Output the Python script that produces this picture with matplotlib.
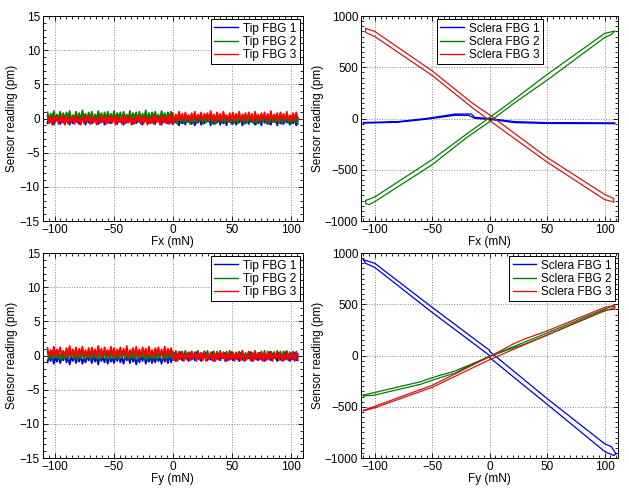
import matplotlib
matplotlib.use("Agg")
import matplotlib.pyplot as plt
import numpy as np
from matplotlib.ticker import MultipleLocator

plt.rcParams['font.family'] = ['Liberation Sans', 'DejaVu Sans']
plt.rcParams['font.size'] = 8.5

BLUE = '#0000e0'
GREEN = '#008000'
RED = '#ff0000'
DRED = '#d01818'

# ---- tip FBG noise (pm), negative-force half and positive-force half ----
tip_fx_b_neg = [-0.7, 0.2, -0.5, 0.4, -0.9, 0.1, -0.3, 0.3, -0.8, -0.1, -0.6, 0.4, -0.4, 0.2, -0.9, 0.0, -0.7, 0.3, -0.5, 0.1,
                -0.8, 0.4, -0.2, 0.2, -0.9, -0.1, -0.6, 0.3, -0.7, 0.1, -0.4, 0.4, -0.8, 0.0, -0.5, 0.2, -0.9, 0.3, -0.6, -0.1,
                -0.7, 0.4, -0.3, 0.1, -0.8, 0.2, -0.5, 0.3, -0.9, 0.0, -0.6, 0.4, -0.4, 0.1, -0.8, 0.2, -0.7, 0.3, -0.5, -0.1,
                -0.9, 0.2, -0.3, 0.4, -0.7, 0.0, -0.6, 0.3, -0.8, 0.1, -0.4, 0.2, -0.9, 0.4, -0.5, 0.0, -0.7, 0.3, -0.6, 0.1]
tip_fx_b_pos = [-0.8, 0.1, -0.6, 0.3, -1.0, -0.1, -0.7, 0.2, -0.9, 0.0, -0.5, 0.3, -0.8, -0.2, -1.0, 0.1, -0.6, 0.2, -0.9, 0.0,
                -0.7, 0.3, -0.4, -0.1, -1.0, 0.2, -0.8, 0.1, -0.6, 0.3, -0.9, -0.2, -0.7, 0.0, -1.0, 0.2, -0.5, 0.1, -0.8, 0.3,
                -0.9, -0.1, -0.6, 0.2, -1.0, 0.0, -0.7, 0.3, -0.8, 0.1, -0.5, -0.2, -0.9, 0.2, -0.7, 0.0, -1.0, 0.3, -0.6, 0.1,
                -0.8, -0.1, -0.9, 0.2, -0.5, 0.3, -1.0, 0.0, -0.7, 0.1, -0.8, 0.2, -0.6, -0.2, -0.9, 0.3, -0.7, 0.0, -1.0, 0.1]
tip_fx_g_neg = [0.9, -0.2, 0.7, 0.1, 1.1, -0.3, 0.6, 0.0, 1.0, -0.1, 0.8, -0.3, 0.9, 0.2, 1.1, -0.2, 0.5, 0.0, 1.0, -0.1,
                0.8, -0.3, 1.2, 0.1, 0.7, -0.2, 0.9, 0.0, 1.0, -0.3, 0.6, -0.1, 1.1, 0.1, 0.8, -0.2, 0.9, -0.3, 1.0, 0.0,
                0.7, -0.1, 1.1, -0.2, 0.8, 0.1, 0.9, -0.3, 1.0, 0.0, 0.6, -0.2, 1.1, -0.1, 0.8, 0.2, 0.9, -0.3, 1.0, -0.1,
                0.7, 0.0, 1.2, -0.2, 0.8, -0.3, 0.9, 0.1, 1.0, -0.1, 0.6, -0.2, 1.1, 0.0, 0.8, -0.3, 0.9, 0.1, 1.0, -0.2]
tip_fx_g_pos = [0.4, -0.6, 0.2, -0.8, 0.5, -0.4, 0.3, -0.7, 0.1, -0.5, 0.4, -0.8, 0.2, -0.6, 0.5, -0.7, 0.3, -0.4, 0.4, -0.8,
                0.1, -0.6, 0.5, -0.5, 0.2, -0.7, 0.4, -0.8, 0.3, -0.4, 0.5, -0.6, 0.2, -0.7, 0.4, -0.5, 0.1, -0.8, 0.3, -0.6,
                0.5, -0.7, 0.2, -0.4, 0.4, -0.8, 0.3, -0.6, 0.1, -0.5, 0.5, -0.7, 0.2, -0.8, 0.4, -0.6, 0.3, -0.4, 0.5, -0.7,
                0.2, -0.8, 0.4, -0.5, 0.1, -0.6, 0.3, -0.7, 0.5, -0.8, 0.2, -0.4, 0.4, -0.6, 0.3, -0.7, 0.1, -0.5, 0.4, -0.8]
tip_fx_r_neg = [0.4, -0.7, 0.1, -0.9, 0.5, -0.5, 0.2, -0.8, 0.3, -0.6, 0.5, -0.9, 0.0, -0.7, 0.4, -0.5, 0.2, -0.8, 0.5, -0.6,
                0.1, -0.9, 0.3, -0.7, 0.4, -0.4, 0.2, -0.8, 0.5, -0.6, 0.0, -0.9, 0.3, -0.7, 0.4, -0.5, 0.1, -0.8, 0.5, -0.7,
                0.2, -0.6, 0.4, -0.9, 0.3, -0.5, 0.0, -0.8, 0.5, -0.7, 0.2, -0.6, 0.4, -0.9, 0.1, -0.7, 0.3, -0.5, 0.5, -0.8,
                0.2, -0.6, 0.4, -0.9, 0.0, -0.7, 0.3, -0.8, 0.5, -0.5, 0.1, -0.9, 0.4, -0.6, 0.2, -0.7, 0.5, -0.8, 0.3, -0.6]
tip_fx_r_pos = [0.8, -0.3, 0.6, -0.4, 1.0, -0.1, 0.7, -0.3, 0.9, 0.0, 0.5, -0.4, 0.8, -0.2, 1.0, -0.3, 0.6, -0.1, 0.9, -0.4,
                0.7, 0.0, 0.8, -0.3, 1.1, -0.2, 0.6, -0.4, 0.9, -0.1, 0.7, -0.3, 1.0, 0.0, 0.5, -0.4, 0.8, -0.2, 0.9, -0.3,
                0.7, -0.1, 1.0, -0.4, 0.6, 0.0, 0.8, -0.3, 0.9, -0.2, 0.7, -0.4, 1.0, -0.1, 0.6, -0.3, 0.8, 0.0, 0.9, -0.4,
                0.7, -0.2, 1.1, -0.3, 0.6, -0.1, 0.8, -0.4, 0.9, 0.0, 0.7, -0.3, 1.0, -0.2, 0.5, -0.4, 0.8, -0.1, 0.9, -0.3]

tip_fy_b_neg = [-1.0, -0.1, -0.8, 0.1, -1.2, -0.2, -0.9, 0.0, -1.1, -0.3, -0.7, 0.1, -1.0, -0.1, -1.3, -0.2, -0.8, 0.0, -1.1, -0.1,
                -0.9, 0.1, -1.2, -0.3, -1.0, 0.0, -0.7, -0.2, -1.1, 0.1, -0.9, -0.1, -1.3, 0.0, -0.8, -0.2, -1.0, 0.1, -1.2, -0.1,
                -0.9, -0.3, -1.1, 0.0, -0.8, 0.1, -1.0, -0.2, -1.2, -0.1, -0.7, 0.0, -1.1, 0.1, -0.9, -0.2, -1.3, -0.1, -1.0, 0.0,
                -0.8, 0.1, -1.2, -0.2, -0.9, -0.1, -1.1, 0.0, -1.0, 0.1, -0.8, -0.3, -1.2, 0.0, -0.9, -0.1, -1.1, 0.1, -1.0, -0.2]
tip_fy_b_pos = [-0.6, 0.4, -0.8, 0.2, -0.5, 0.5, -0.7, 0.1, -0.4, 0.3, -0.8, 0.4, -0.6, 0.0, -0.7, 0.5, -0.5, 0.2, -0.8, 0.3,
                -0.3, 0.4, -0.7, 0.1, -0.6, 0.5, -0.8, 0.2, -0.5, 0.3, -0.7, 0.0, -0.4, 0.4, -0.8, 0.2, -0.6, 0.5, -0.7, 0.1,
                -0.5, 0.3, -0.8, 0.4, -0.6, 0.0, -0.7, 0.2, -0.4, 0.5, -0.8, 0.3, -0.5, 0.1, -0.7, 0.4, -0.6, 0.2, -0.8, 0.0,
                -0.5, 0.5, -0.7, 0.3, -0.4, 0.1, -0.8, 0.4, -0.6, 0.2, -0.7, 0.5, -0.5, 0.0, -0.8, 0.3, -0.6, 0.4, -0.7, 0.2]
tip_fy_g_neg = [0.6, -0.5, 0.3, -0.6, 0.7, -0.3, 0.5, -0.5, 0.2, -0.6, 0.6, -0.4, 0.4, -0.6, 0.7, -0.2, 0.5, -0.5, 0.3, -0.6,
                0.6, -0.4, 0.7, -0.5, 0.2, -0.3, 0.5, -0.6, 0.6, -0.4, 0.4, -0.5, 0.7, -0.6, 0.3, -0.3, 0.6, -0.5, 0.5, -0.6,
                0.7, -0.4, 0.2, -0.5, 0.6, -0.6, 0.4, -0.3, 0.7, -0.5, 0.5, -0.6, 0.3, -0.4, 0.6, -0.5, 0.7, -0.6, 0.4, -0.3,
                0.5, -0.5, 0.6, -0.6, 0.2, -0.4, 0.7, -0.5, 0.5, -0.6, 0.3, -0.3, 0.6, -0.5, 0.4, -0.6, 0.7, -0.4, 0.5, -0.5]
tip_fy_g_pos = [0.6, -0.4, 0.7, -0.2, 0.4, -0.5, 0.6, -0.3, 0.7, -0.4, 0.3, -0.5, 0.6, -0.2, 0.5, -0.4, 0.7, -0.5, 0.4, -0.3,
                0.6, -0.4, 0.7, -0.5, 0.3, -0.2, 0.6, -0.4, 0.5, -0.5, 0.7, -0.3, 0.4, -0.4, 0.6, -0.5, 0.7, -0.2, 0.5, -0.4,
                0.3, -0.5, 0.6, -0.3, 0.7, -0.4, 0.4, -0.5, 0.6, -0.2, 0.5, -0.4, 0.7, -0.5, 0.3, -0.3, 0.6, -0.4, 0.7, -0.5,
                0.4, -0.2, 0.6, -0.4, 0.5, -0.5, 0.7, -0.3, 0.4, -0.4, 0.6, -0.5, 0.7, -0.2, 0.5, -0.4, 0.3, -0.5, 0.6, -0.3]
tip_fy_r_neg = [1.1, -0.1, 0.8, 0.1, 1.3, -0.2, 0.9, 0.2, 1.2, 0.0, 0.7, -0.2, 1.1, 0.1, 1.4, -0.1, 0.9, 0.0, 1.2, -0.2,
                1.0, 0.2, 1.3, -0.1, 0.8, 0.0, 1.1, -0.2, 1.2, 0.1, 0.9, -0.1, 1.4, 0.0, 1.0, -0.2, 1.2, 0.2, 0.8, -0.1,
                1.3, 0.0, 1.1, -0.2, 0.9, 0.1, 1.2, -0.1, 1.0, 0.0, 1.4, -0.2, 0.8, 0.2, 1.1, -0.1, 1.3, 0.0, 0.9, -0.2,
                1.2, 0.1, 1.0, -0.1, 1.3, 0.0, 0.8, -0.2, 1.1, 0.2, 1.2, -0.1, 0.9, 0.0, 1.3, -0.2, 1.0, 0.1, 1.1, -0.1]
tip_fy_r_pos = [0.5, -0.7, 0.3, -0.8, 0.6, -0.5, 0.4, -0.8, 0.2, -0.6, 0.5, -0.7, 0.6, -0.4, 0.3, -0.8, 0.5, -0.6, 0.4, -0.7,
                0.6, -0.8, 0.2, -0.5, 0.5, -0.7, 0.3, -0.8, 0.6, -0.6, 0.4, -0.4, 0.5, -0.8, 0.2, -0.7, 0.6, -0.5, 0.3, -0.8,
                0.5, -0.6, 0.4, -0.7, 0.6, -0.8, 0.2, -0.4, 0.5, -0.7, 0.3, -0.8, 0.6, -0.6, 0.4, -0.5, 0.5, -0.8, 0.2, -0.7,
                0.6, -0.6, 0.3, -0.8, 0.5, -0.4, 0.4, -0.7, 0.6, -0.8, 0.2, -0.6, 0.5, -0.7, 0.3, -0.5, 0.6, -0.8, 0.4, -0.7]

# ---- sclera FBG hysteresis loops (force mN, reading pm) ----
scl_fx_b_x = [-110, -80, -56, -30, -16, -13, 0, 22, 51, 109, 109, 51, 22, 0, -13, -18, -30, -56, -80, -110]
scl_fx_b_y = [-38, -30, 0, 44, 45, 12, 0, -30, -40, -42, -50, -48, -40, -8, 2, 30, 32, -8, -36, -45]
scl_fx_g_x = [-108, -100, -50, -20, 0, 20, 50, 100, 109, 106, 100, 50, 20, 0, -20, -50, -100, -105, -108, -108]
scl_fx_g_y = [-800, -765, -400, -150, 10, 175, 430, 830, 855, 820, 790, 375, 140, -30, -185, -450, -810, -840, -830, -800]
scl_fx_r_x = [-108, -100, -50, -15, 0, 50, 100, 108, 108, 100, 50, 0, -15, -50, -100, -108, -108]
scl_fx_r_y = [880, 850, 465, 150, 35, -380, -740, -780, -815, -790, -425, -20, 105, 420, 800, 840, 880]

scl_fy_b_x = [-110, -100, -50, 0, 0, 50, 100, 106, 110, 108, 100, 50, 0, 0, -50, -100, -108, -110]
scl_fy_b_y = [935, 900, 470, 50, 40, -420, -860, -890, -960, -975, -935, -475, -20, 0, 420, 860, 900, 935]
scl_fy_g_x = [-110, -100, -60, -50, -30, 0, 30, 50, 100, 108, 108, 100, 50, 30, 0, -30, -50, -60, -100, -110, -110]
scl_fy_g_y = [-385, -360, -255, -215, -150, -10, 130, 220, 455, 485, 465, 435, 200, 110, -5, -170, -240, -280, -385, -395, -385]
scl_fy_r_x = [-110, -100, -50, 0, 20, 30, 50, 100, 109, 109, 100, 50, 30, 0, -50, -100, -110, -110]
scl_fy_r_y = [-535, -495, -290, -10, 110, 160, 240, 470, 490, 450, 445, 200, 105, -40, -310, -510, -540, -535]

fig = plt.figure(figsize=(6.29, 4.95), dpi=100)
ax_tl = fig.add_axes([0.068, 0.5535, 0.413, 0.414])
ax_tr = fig.add_axes([0.574, 0.5535, 0.409, 0.414])
ax_bl = fig.add_axes([0.068, 0.0747, 0.413, 0.414])
ax_br = fig.add_axes([0.574, 0.0747, 0.409, 0.414])


def style(ax, xlabel, ylim, ymajor, yminor, xlim):
    ax.set_xlim(*xlim)
    ax.set_ylim(*ylim)
    ax.xaxis.set_major_locator(MultipleLocator(50))
    ax.xaxis.set_minor_locator(MultipleLocator(5))
    ax.yaxis.set_major_locator(MultipleLocator(ymajor))
    ax.yaxis.set_minor_locator(MultipleLocator(yminor))
    ax.tick_params(which='both', direction='in', top=True, right=True, width=0.6, pad=2)
    ax.tick_params(which='major', length=3.5)
    ax.tick_params(which='minor', length=2)
    ax.grid(True, which='major', linestyle=':', color='#888888', linewidth=0.7)
    for s in ax.spines.values():
        s.set_linewidth(0.7)
    ax.set_xlabel(xlabel, labelpad=0)
    ax.set_ylabel('Sensor reading (pm)', labelpad=1)


def add_legend(ax, loc):
    leg = ax.legend(loc=loc, fancybox=False, edgecolor='black', framealpha=1,
                    labelspacing=0.1, borderpad=0.3, handlelength=2.0, handletextpad=0.4,
                    borderaxespad=0.25)
    leg.get_frame().set_linewidth(0.7)
    for h in leg.get_lines():
        h.set_linewidth(1.0)


def plot_tip(ax, b, g, r, xlabel):
    for (neg, pos), c, lab in zip([b, g, r], [BLUE, GREEN, RED], ['Tip FBG 1', 'Tip FBG 2', 'Tip FBG 3']):
        ax.plot(np.linspace(-106, 0, len(neg)), neg, color=c, lw=1.3, label=lab)
        ax.plot(np.linspace(0, 106, len(pos)), pos, color=c, lw=1.3)
    style(ax, xlabel, (-15, 15), 5, 1, (-110, 110))
    add_legend(ax, 'upper right')


def plot_scl(ax, loops, xlabel, legloc):
    for (x, y), c, lab in zip(loops, [BLUE, GREEN, DRED], ['Sclera FBG 1', 'Sclera FBG 2', 'Sclera FBG 3']):
        ax.plot(x, y, color=c, lw=0.9, label=lab)
    style(ax, xlabel, (-1000, 1000), 500, 50, (-112, 112))
    add_legend(ax, legloc)


plot_tip(ax_tl, (tip_fx_b_neg, tip_fx_b_pos), (tip_fx_g_neg, tip_fx_g_pos), (tip_fx_r_neg, tip_fx_r_pos), 'Fx (mN)')
plot_tip(ax_bl, (tip_fy_b_neg, tip_fy_b_pos), (tip_fy_g_neg, tip_fy_g_pos), (tip_fy_r_neg, tip_fy_r_pos), 'Fy (mN)')
plot_scl(ax_tr, [(scl_fx_b_x, scl_fx_b_y), (scl_fx_g_x, scl_fx_g_y), (scl_fx_r_x, scl_fx_r_y)], 'Fx (mN)', 'upper center')
plot_scl(ax_br, [(scl_fy_b_x, scl_fy_b_y), (scl_fy_g_x, scl_fy_g_y), (scl_fy_r_x, scl_fy_r_y)], 'Fy (mN)', 'upper right')

fig.savefig('out.png', dpi=100)
